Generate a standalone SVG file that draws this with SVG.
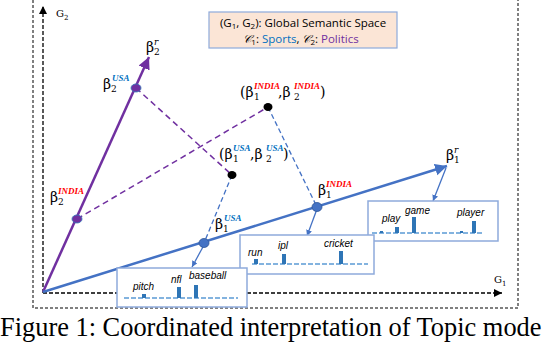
<svg xmlns="http://www.w3.org/2000/svg" width="552" height="342" viewBox="0 0 552 342">
<style>
.ax{stroke:#000;stroke-width:1.3;stroke-dasharray:4 2;fill:none}
.bd{stroke:#000;stroke-width:1;stroke-dasharray:3 2;fill:none}
.pl{stroke:#7030a0;stroke-width:2.5;fill:none}
.bl{stroke:#4472c4;stroke-width:2.5;fill:none}
.pd{stroke:#7030a0;stroke-width:1.5;stroke-dasharray:6 4;fill:none}
.bdash{stroke:#4472c4;stroke-width:1.3;stroke-dasharray:5 3;fill:none}
.ba{stroke:#4472c4;stroke-width:1.3;fill:none}
.box{fill:#fff;stroke:#8eaadb;stroke-width:1.5}
.bar{fill:#2e75b6}
.base{stroke:#5b9bd5;stroke-width:1.5;stroke-dasharray:5 2;fill:none}
.m{font-family:"DejaVu Serif","Liberation Serif",serif;font-size:14px;fill:#000}
.s{font-size:9px}
.usa{font-family:"Liberation Serif",serif;font-style:italic;font-weight:bold;font-size:9px;fill:#0070c0}
.ind{font-family:"Liberation Serif",serif;font-style:italic;font-weight:bold;font-size:9px;fill:#ff0000}
.w{font-family:"Liberation Sans",sans-serif;font-style:italic;font-size:10px;fill:#000}
.lg{font-family:"Open Sans","Liberation Sans",sans-serif;font-size:11.5px;fill:#000}
.ax-l{font-family:"DejaVu Serif",serif;font-size:10px;fill:#000}
</style>
<defs>
<marker id="ak" markerUnits="userSpaceOnUse" markerWidth="10" markerHeight="10" refX="8" refY="4" orient="auto"><path d="M0,0 L8,4 L0,8 Z" fill="#000"/></marker>
<marker id="ap" markerUnits="userSpaceOnUse" markerWidth="16" markerHeight="14" refX="12" refY="6" orient="auto"><path d="M0,0 L12,6 L0,12 Z" fill="#7030a0"/></marker>
<marker id="ab" markerUnits="userSpaceOnUse" markerWidth="16" markerHeight="14" refX="12" refY="6" orient="auto"><path d="M0,0 L12,6 L0,12 Z" fill="#4472c4"/></marker>
<marker id="as" markerUnits="userSpaceOnUse" markerWidth="8" markerHeight="8" refX="6" refY="3" orient="auto"><path d="M0,0 L6,3 L0,6 Z" fill="#4472c4"/></marker>
</defs>

<g id="frame">
<path class="bd" d="M33,0 V308 H518 V0"/>
</g>

<g id="axes">
<line class="ax" x1="43" y1="293" x2="43" y2="6" marker-end="url(#ak)"/>
<line class="ax" x1="43" y1="293" x2="502" y2="293" marker-end="url(#ak)"/>
<text class="ax-l" x="56" y="17">G<tspan font-size="7" dy="3">2</tspan></text>
<text class="ax-l" x="494" y="283">G<tspan font-size="7" dy="3">1</tspan></text>
</g>

<g id="legend">
<rect x="209" y="12" width="188" height="36" fill="#fbe5d6" stroke="#8eaadb" stroke-width="1.2"/>
<text class="lg" x="303" y="27" text-anchor="middle">(G<tspan font-size="8" dy="2">1</tspan><tspan dy="-2">, G</tspan><tspan font-size="8" dy="2">2</tspan><tspan dy="-2">): Global Semantic Space</tspan></text>
<text class="lg" x="301" y="43" text-anchor="middle"><tspan font-family="Liberation Serif" font-style="italic">𝒞</tspan><tspan font-size="8" dy="2">1</tspan><tspan dy="-2">: </tspan><tspan fill="#0070c0">Sports</tspan>, <tspan font-family="Liberation Serif" font-style="italic">𝒞</tspan><tspan font-size="8" dy="2">2</tspan><tspan dy="-2">: </tspan><tspan fill="#7030a0">Politics</tspan></text>
</g>

<g id="connectors">
<line class="pd" x1="136" y1="88" x2="232" y2="175"/>
<line class="pd" x1="77" y1="219" x2="268" y2="107"/>
<line class="bdash" x1="232" y1="175" x2="204" y2="243"/>
<line class="bdash" x1="268" y1="107" x2="317" y2="207"/>
<line class="pl" x1="43" y1="292" x2="149" y2="57" marker-end="url(#ap)"/>
<line class="bl" x1="43" y1="292" x2="447" y2="166" marker-end="url(#ab)"/>
<line class="ba" x1="317" y1="209" x2="307" y2="236" marker-end="url(#as)"/>
<line class="ba" x1="204" y1="245" x2="192" y2="267" marker-end="url(#as)"/>
<line class="ba" x1="446" y1="168" x2="433" y2="201" marker-end="url(#as)"/>
</g>

<g id="points">
<ellipse cx="136" cy="88" rx="5" ry="4" fill="#7030a0" stroke="#2e75b6" stroke-width="0.8"/>
<ellipse cx="77" cy="219" rx="5" ry="4" fill="#7030a0" stroke="#2e75b6" stroke-width="0.8"/>
<ellipse cx="232" cy="175" rx="4.5" ry="4" fill="#000"/>
<ellipse cx="268" cy="107" rx="4.5" ry="4" fill="#000"/>
<ellipse cx="204" cy="243" rx="5" ry="4.5" fill="#4472c4" stroke="#2f5597" stroke-width="0.8"/>
<ellipse cx="317" cy="207" rx="5" ry="4.5" fill="#4472c4" stroke="#2f5597" stroke-width="0.8"/>
</g>

<g id="labels">
<text class="m" x="146" y="52">β<tspan class="s" x="154" dy="3">2</tspan><tspan class="s" x="154" dy="-10" font-style="italic">r</tspan></text>
<text class="m" x="446" y="160">β<tspan class="s" x="454" dy="3">1</tspan><tspan class="s" x="454" dy="-10" font-style="italic">r</tspan></text>
<text class="m" x="103" y="89">β<tspan class="s" x="111" dy="3">2</tspan><tspan class="usa" x="112" dy="-11">USA</tspan></text>
<text class="m" x="50" y="202">β<tspan class="s" x="58" dy="3">2</tspan><tspan class="ind" x="58" dy="-11">INDIA</tspan></text>
<text class="m" x="318" y="195">β<tspan class="s" x="326" dy="3">1</tspan><tspan class="ind" x="326" dy="-11">INDIA</tspan></text>
<text class="m" x="215" y="229">β<tspan class="s" x="223" dy="3">1</tspan><tspan class="usa" x="224" dy="-11">USA</tspan></text>
<text class="m" x="240" y="97">(β<tspan class="s" x="254" dy="3">1</tspan><tspan class="ind" x="254" dy="-11">INDIA</tspan><tspan x="278" dy="8">,β</tspan><tspan class="s" x="294" dy="3">2</tspan><tspan class="ind" x="294" dy="-11">INDIA</tspan><tspan x="320" dy="8">)</tspan></text>
<text class="m" x="219" y="159">(β<tspan class="s" x="233" dy="3">1</tspan><tspan class="usa" x="233" dy="-11">USA</tspan><tspan x="250" dy="8">,β</tspan><tspan class="s" x="266" dy="3">2</tspan><tspan class="usa" x="266" dy="-11">USA</tspan><tspan x="283" dy="8">)</tspan></text>
</g>

<g id="box-play">
<rect class="box" x="368" y="201" width="130" height="40"/>
<line class="base" x1="372" y1="233" x2="484" y2="233"/>
<rect class="bar" x="395" y="227" width="4" height="6"/>
<rect class="bar" x="412" y="217" width="4" height="16"/>
<rect class="bar" x="472" y="221" width="4" height="12"/>
<rect class="bar" x="380" y="231" width="3" height="2"/>
<rect class="bar" x="460" y="231" width="3" height="2"/>
<text class="w" x="382" y="222">play</text>
<text class="w" x="405" y="214">game</text>
<text class="w" x="457" y="216">player</text>
</g>

<g id="box-run">
<rect class="box" x="240" y="235" width="134" height="39"/>
<line class="base" x1="252" y1="264" x2="368" y2="264"/>
<rect class="bar" x="254" y="259" width="4" height="5"/>
<rect class="bar" x="282" y="254" width="4" height="10"/>
<rect class="bar" x="339" y="251" width="4" height="13"/>
<text class="w" x="248" y="256">run</text>
<text class="w" x="278" y="249">ipl</text>
<text class="w" x="324" y="247">cricket</text>
</g>

<g id="box-pitch">
<rect class="box" x="117" y="268" width="130" height="39"/>
<line class="base" x1="124" y1="298" x2="238" y2="298"/>
<rect class="bar" x="142" y="294" width="4" height="4"/>
<rect class="bar" x="177" y="287" width="4" height="11"/>
<rect class="bar" x="194" y="285" width="4" height="13"/>
<text class="w" x="133" y="290">pitch</text>
<text class="w" x="171" y="283">nfl</text>
<text class="w" x="189" y="279">baseball</text>
</g>

<text x="0" y="336" font-family="Liberation Serif" font-size="26.4" fill="#000">Figure 1: Coordinated interpretation of Topic mode</text>
</svg>
